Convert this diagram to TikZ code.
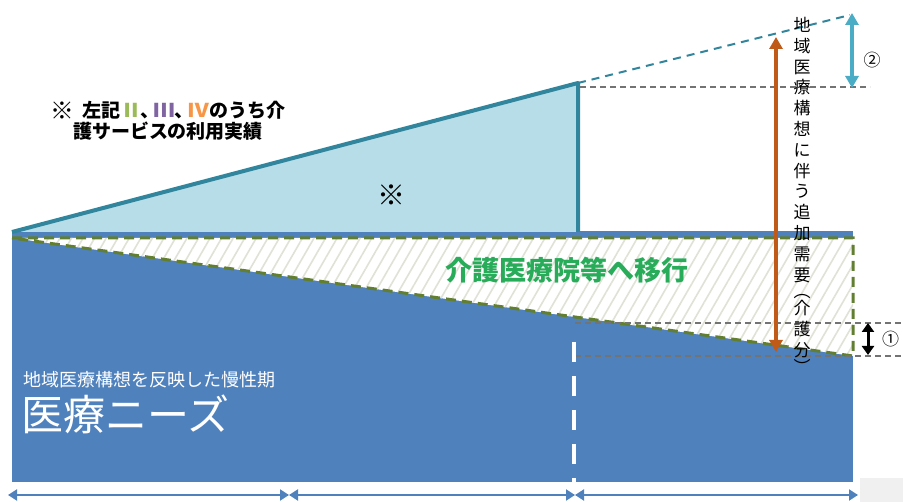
\documentclass[tikz,border=0pt]{standalone}
\usepackage{fontspec}
\setmainfont{Noto Sans CJK JP}
\usepackage{tikz}
\usetikzlibrary{positioning,arrows.meta,patterns.meta}

\definecolor{needblue}{RGB}{79,129,189}
\definecolor{careblue}{RGB}{183,221,232}
\definecolor{careedge}{RGB}{49,133,156}
\definecolor{moveedge}{RGB}{98,126,48}
\definecolor{movetext}{RGB}{40,172,90}
\definecolor{addbrown}{RGB}{192,90,25}
\definecolor{gapcyan}{RGB}{75,172,198}
\definecolor{hatchgray}{RGB}{224,226,214}
\definecolor{numgreen}{RGB}{155,187,89}
\definecolor{numpurple}{RGB}{128,100,162}
\definecolor{numorange}{RGB}{247,150,70}
\newcommand{\widenum}[1]{\scalebox{1.15}[1]{#1}}
\newcommand{\tightcomma}{\kern-1pt、\kern-6pt}

\begin{document}
\begin{tikzpicture}[x=1pt, y=-1pt,
  gapline/.style={black!55, line width=1.3pt, dash pattern=on 6pt off 4pt},
  bigarrow/.style={line width=4pt, {Triangle[length=12pt,width=13pt]}-{Triangle[length=12pt,width=13pt]}},
  spanarrow/.style={needblue, line width=2pt, {Triangle[length=9pt,width=11pt]}-{Triangle[length=9pt,width=11pt]}}]
\useasboundingbox (0,0) rectangle (903,502);
\fill[black!6] (860,478) rectangle (903,502);

% chronic care need
\fill[needblue] (12,231) rectangle (853,482);
\fill[white] (12,238) -- (853,238) -- (853,356) -- cycle;
\fill[pattern={Lines[angle=60,distance=10pt,line width=1.6pt]}, pattern color=hatchgray] (12,238) -- (853,238) -- (853,356) -- cycle;
\draw[moveedge, line width=3pt, dash pattern=on 10pt off 6pt] (12,238) -- (853,238) -- (853,356) -- cycle;

% care service triangle
\fill[careblue] (12,232) -- (578,83) -- (578,232) -- cycle;
\draw[careedge, line width=4pt, line join=round] (12,232) -- (578,83) -- (578,232);
\draw[careedge, line width=2pt, dash pattern=on 8pt off 6pt] (578,83) -- (850,15);

% guide lines
\draw[gapline] (580,87) -- (870,87);
\draw[gapline] (575,323) -- (903,323);
\draw[gapline] (575,356) -- (903,356);
\draw[white, line width=4pt, dash pattern=on 20pt off 14pt] (574,342) -- (574,482);

% arrows
\coordinate (addTop) at (776,37);
\coordinate (addBot) at (776,352);
\coordinate (gapTop) at (852,13);
\coordinate (gapBot) at (852,88);
\coordinate (oneTop) at (868,323);
\coordinate (oneBot) at (868,355);
\draw[bigarrow, addbrown] (addTop) -- (addBot);
\draw[bigarrow, gapcyan] (gapTop) -- (gapBot);
\draw[black, line width=3pt, {Triangle[length=9pt,width=12pt]}-{Triangle[length=9pt,width=12pt]}] (oneTop) -- (oneBot);

\coordinate (spanA) at (8,495);
\coordinate (spanB) at (289,495);
\coordinate (spanC) at (575,495);
\coordinate (spanD) at (858,495);
\draw[spanarrow] (spanA) -- (spanB);
\draw[spanarrow] (spanB) -- (spanC);
\draw[spanarrow] (spanC) -- (spanD);

% labels
\node[font=\fontsize{19pt}{21pt}\selectfont\bfseries, align=center] (note) at (168,121)
  {\raisebox{-2pt}{\scalebox{1.25}{※}}\hspace{8pt}左記\textcolor{numgreen}{\widenum{Ⅱ}}\tightcomma\textcolor{numpurple}{\widenum{Ⅲ}}\tightcomma\textcolor{numorange}{\widenum{Ⅳ}}のうち介\\護サービスの利用実績};
\node[font=\fontsize{28pt}{30pt}\selectfont] (mark) at (391,195) {※};
\node[font=\fontsize{27pt}{30pt}\selectfont\bfseries, text=movetext] (move) at (567,270) {介護医療院等へ移行};
\node[font=\fontsize{18pt}{20pt}\selectfont, text=white, anchor=west, inner sep=0pt] (needsub) at (23,380) {地域医療構想を反映した慢性期};
\node[font=\fontsize{42pt}{46pt}\selectfont, text=white, anchor=west, inner sep=0pt] (need) at (21,414) {医療ニーズ};
\node[font=\fontsize{17pt}{20.8pt}\selectfont, align=center, anchor=north, inner sep=0pt] (addlabel) at (802,17)
  {地\\域\\医\\療\\構\\想\\に\\伴\\う\\追\\加\\需\\要\\[-4pt]︵\\[-4pt]介\\護\\分\\[-4pt]︶};
\node[font=\fontsize{17pt}{20pt}\selectfont] (two) at (872,60) {②};
\node[font=\fontsize{17pt}{20pt}\selectfont, anchor=west, inner sep=0pt] (one) at (882,339) {①};
\end{tikzpicture}
\end{document}
